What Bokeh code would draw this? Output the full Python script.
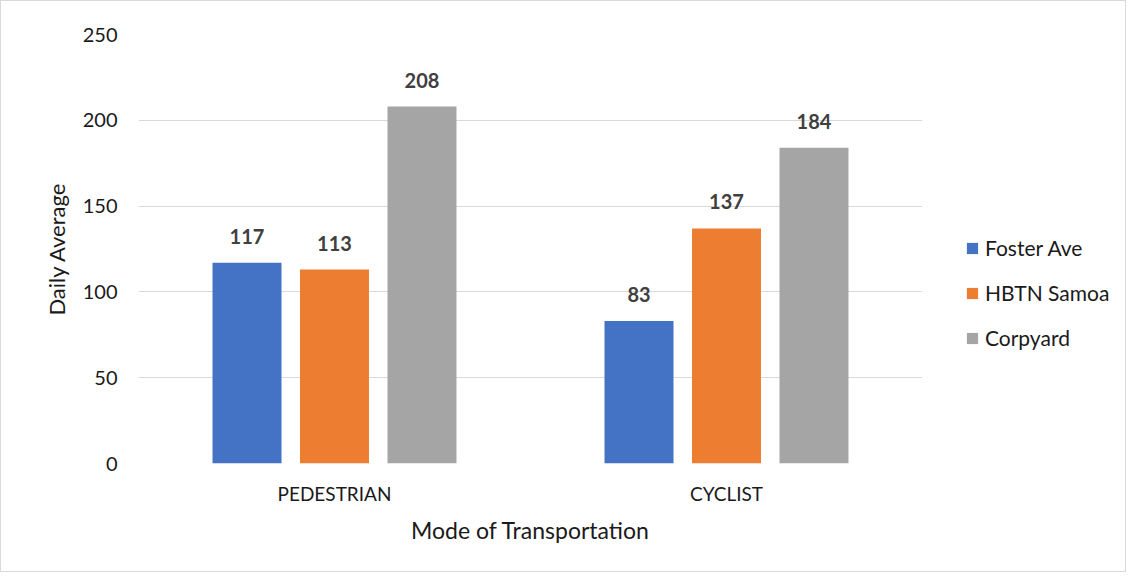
from bokeh.plotting import figure
from bokeh.models import ColumnDataSource, Legend, LegendItem, LabelSet, FixedTicker
from bokeh.layouts import row
from bokeh.transform import dodge
from bokeh.core.properties import value
from bokeh.embed import file_html
from bokeh.resources import INLINE

modes = ["PEDESTRIAN", "CYCLIST"]
series_names = ["Foster Ave", "HBTN Samoa", "Corpyard"]
foster_ave = [117, 83]
hbtn_samoa = [113, 137]
corpyard = [208, 184]
colors = ["#4472C4", "#ED7D31", "#A5A5A5"]
y_ticks = [0, 50, 100, 150, 200, 250]

FONT = "Lato"
TXT = "#1a1a1a"

src = ColumnDataSource(dict(mode=modes, foster=foster_ave, hbtn=hbtn_samoa, corp=corpyard,
                            foster_t=[str(v) for v in foster_ave],
                            hbtn_t=[str(v) for v in hbtn_samoa],
                            corp_t=[str(v) for v in corpyard]))

p = figure(x_range=modes, y_range=(0, 250), width=922, height=570,
           output_backend="svg", toolbar_location=None,
           min_border_left=137, min_border_top=33, min_border_right=1, min_border_bottom=108)
p.outline_line_color = None
p.background_fill_color = "white"
p.border_fill_color = "white"

offsets = [-0.2232, 0.0, 0.2232]
cols = ["foster", "hbtn", "corp"]
for off, col, c in zip(offsets, cols, colors):
    p.vbar(x=dodge("mode", off, range=p.x_range), top=col, width=0.176, bottom=0,
           source=src, fill_color=c, line_color=None)
    lab = LabelSet(x=dodge("mode", off, range=p.x_range), y=col, text=col + "_t", source=src,
                   text_align="center", text_baseline="alphabetic", y_offset=19,
                   text_font=value(FONT), text_font_size=value("20px"), text_font_style="bold",
                   text_color="#404040")
    p.add_layout(lab)

# y axis
p.yaxis.ticker = FixedTicker(ticks=y_ticks)
p.yaxis.axis_line_color = None
p.yaxis.major_tick_line_color = None
p.yaxis.minor_tick_line_color = None
p.yaxis.major_label_standoff = 15
p.yaxis.major_label_text_font = FONT
p.yaxis.major_label_text_font_size = "20px"
p.yaxis.major_label_text_color = TXT
p.yaxis.axis_label = "Daily Average"
p.yaxis.axis_label_text_font = FONT
p.yaxis.axis_label_text_font_size = "22px"
p.yaxis.axis_label_text_font_style = "normal"
p.yaxis.axis_label_text_color = TXT
p.yaxis.axis_label_standoff = 10

# x axis
p.xaxis.axis_line_color = None
p.xaxis.major_tick_line_color = None
p.xaxis.minor_tick_line_color = None
p.xaxis.major_label_standoff = 12
p.xaxis.major_label_text_font = FONT
p.xaxis.major_label_text_font_size = "19px"
p.xaxis.major_label_text_color = TXT
p.xaxis.axis_label = "Mode of Transportation"
p.xaxis.axis_label_text_font = FONT
p.xaxis.axis_label_text_font_size = "23px"
p.xaxis.axis_label_text_font_style = "normal"
p.xaxis.axis_label_text_color = TXT
p.xaxis.axis_label_standoff = 8

p.xgrid.grid_line_color = None
p.ygrid.grid_line_color = "#d9d9d9"
p.ygrid.grid_line_width = 1

# legend panel (separate figure so the legend sits to the right of the plot area)
pl = figure(width=202, height=570, x_range=modes, y_range=(0, 250),
            x_axis_type=None, y_axis_type=None, output_backend="svg", toolbar_location=None,
            min_border_left=0, min_border_right=0, min_border_top=0, min_border_bottom=0)
pl.outline_line_color = None
pl.xgrid.grid_line_color = None
pl.ygrid.grid_line_color = None
pl.background_fill_color = "white"
pl.border_fill_color = "white"
leg_renderers = []
for col, c in zip(cols, colors):
    r = pl.vbar(x="mode", top=col, width=0.1, source=src, fill_color=c, line_color=None)
    r.visible = False
    leg_renderers.append(r)

legend = Legend(items=[LegendItem(label=n, renderers=[r]) for n, r in zip(series_names, leg_renderers)],
                location=(42, 113), padding=0, margin=0, border_line_color=None,
                background_fill_alpha=0, glyph_width=14, glyph_height=14,
                label_height=25, spacing=20, label_standoff=6, inactive_fill_alpha=0,
                label_text_font=FONT, label_text_font_size="21px", label_text_color=TXT)
pl.add_layout(legend, "center")

layout = row(p, pl)
layout.styles = {"border": "1px solid #d9d9d9"}

open("out.html", "w").write(file_html(layout, INLINE))
